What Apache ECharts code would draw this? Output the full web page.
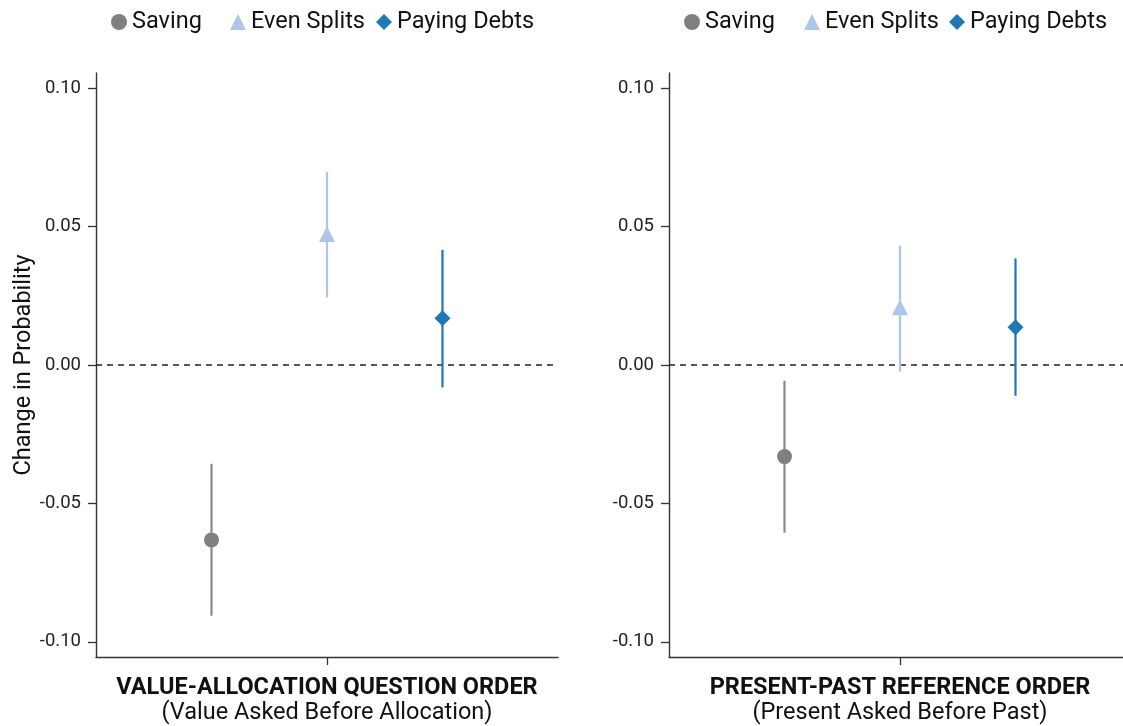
<!DOCTYPE html>
<html><head><meta charset="utf-8">
<script src="https://cdn.jsdelivr.net/npm/echarts@6/dist/echarts.min.js"></script>
<style>html,body{margin:0;padding:0;background:#fff}#c{width:1123px;height:726px}</style>
</head><body><div id="c"></div>
<script>
const panelTitles = ['VALUE-ALLOCATION QUESTION ORDER', 'PRESENT-PAST REFERENCE ORDER'];
const panelSubtitles = ['(Value Asked Before Allocation)', '(Present Asked Before Past)'];
const yAxisTitle = 'Change in Probability';
const seriesNames = ['Saving', 'Even Splits', 'Paying Debts'];
const xSlots = [-1, 0, 1];
const yTicks = [-0.10, -0.05, 0.00, 0.05, 0.10];
// values: [left panel, right panel]
const savingEst = [-0.0632, -0.0331];
const savingLow = [-0.0906, -0.0606];
const savingHigh = [-0.0357, -0.0057];
const evenEst = [0.0473, 0.0209];
const evenLow = [0.0244, -0.0024];
const evenHigh = [0.0698, 0.0431];
const debtsEst = [0.0169, 0.0136];
const debtsLow = [-0.0081, -0.0111];
const debtsHigh = [0.0416, 0.0385];

const estimates = [savingEst, evenEst, debtsEst];
const lows = [savingLow, evenLow, debtsLow];
const highs = [savingHigh, evenHigh, debtsHigh];

// styles
const FONT = 'Roboto';
const markerColors = ['#808080', '#aec7e8', '#1f77b4'];
const lineColors = ['#8a8a8a', '#aec7e8', '#1f77b4'];
const symbols = ['circle', 'triangle', 'diamond'];
const gridLefts = [96, 669];
const legendLefts = [[111, 230, 376], [684, 804, 949]];

const grids = [], xAxes = [], yAxes = [], series = [], legends = [];
for (let p = 0; p < 2; p++) {
  grids.push({left: gridLefts[p], top: 73, width: 462, height: 584, containLabel: false, outerBoundsMode: 'none'});
  xAxes.push({
    type: 'value', gridIndex: p, min: -2, max: 2,
    axisLine: {show: true, onZero: false, lineStyle: {color: '#333', width: 1.4}},
    axisTick: {show: true, customValues: [0], length: 8, lineStyle: {color: '#333', width: 1.3}},
    axisLabel: {show: false},
    splitLine: {show: false},
    name: '{b|' + panelTitles[p] + '}\n{s|' + panelSubtitles[p] + '}',
    nameLocation: 'middle', nameGap: 19,
    nameTextStyle: {
      verticalAlign: 'top', align: 'center',
      rich: {
        b: {fontFamily: FONT, fontWeight: 'bold', fontSize: 23.5, color: '#111', lineHeight: 24.5, align: 'center'},
        s: {fontFamily: FONT, fontSize: 23.5, color: '#111', lineHeight: 24.5, align: 'center'}
      }
    }
  });
  yAxes.push({
    type: 'value', gridIndex: p, min: -0.1055, max: 0.1055,
    axisLine: {show: true, onZero: false, lineStyle: {color: '#333', width: 1.4}},
    axisTick: {show: true, customValues: yTicks, length: 8, lineStyle: {color: '#333', width: 1.3}},
    axisLabel: {show: true, customValues: yTicks, formatter: v => v.toFixed(2), fontFamily: FONT, fontSize: 18.5, color: '#222', margin: 15},
    splitLine: {show: false},
    name: p === 0 ? yAxisTitle : '',
    nameLocation: 'middle', nameGap: 52,
    nameTextStyle: {fontFamily: FONT, fontSize: 23.5, color: '#111'}
  });
  for (let s = 0; s < 3; s++) {
    series.push({
      type: 'custom', name: seriesNames[s], xAxisIndex: p, yAxisIndex: p, z: 2,
      data: [[xSlots[s], lows[s][p], highs[s][p]]],
      encode: {x: 0, y: [1, 2]},
      renderItem: (params, api) => {
        const a = api.coord([api.value(0), api.value(1)]);
        const b = api.coord([api.value(0), api.value(2)]);
        return {type: 'line', shape: {x1: a[0], y1: a[1], x2: b[0], y2: b[1]},
          style: {stroke: lineColors[s], lineWidth: 2.2}};
      },
      silent: true
    });
    const sc = {
      type: 'scatter', name: seriesNames[s], xAxisIndex: p, yAxisIndex: p, z: 5,
      symbol: symbols[s], symbolSize: s === 0 ? 15 : 16,
      itemStyle: {color: markerColors[s], opacity: 1},
      data: [[xSlots[s], estimates[s][p]]],
      silent: true
    };
    if (s === 0) {
      sc.markLine = {
        silent: true, symbol: ['none', 'none'], label: {show: false}, z: 1,
        lineStyle: {color: '#222', type: [6, 5], width: 1.5},
        data: [{yAxis: 0}]
      };
    }
    series.push(sc);
    legends.push({
      left: legendLefts[p][s], top: 10, padding: 0,
      itemWidth: 16, itemHeight: 16,
      data: [{name: seriesNames[s], icon: symbols[s], itemStyle: {color: markerColors[s]}}],
      textStyle: {fontFamily: FONT, fontSize: 23.5, color: '#111', padding: [0, 0, 0, 0]},
      selectedMode: false
    });
  }
}

const chart = echarts.init(document.getElementById('c'), null, {renderer: 'canvas'});
chart.setOption({
  backgroundColor: '#fff',
  animation: false,
  textStyle: {fontFamily: FONT},
  legend: legends,
  grid: grids,
  xAxis: xAxes,
  yAxis: yAxes,
  series: series
});
</script></body></html>
